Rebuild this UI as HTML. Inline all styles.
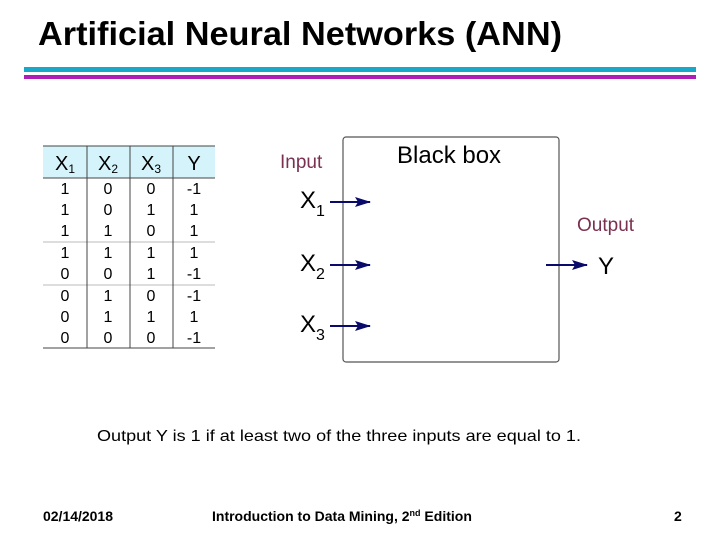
<!DOCTYPE html>
<html><head><meta charset="utf-8"><style>body{margin:0;background:#fff}svg{display:block}</style></head><body>
<svg width="720" height="540" xmlns="http://www.w3.org/2000/svg" font-family="Liberation Sans, sans-serif">
<defs><marker id="a" markerWidth="16" markerHeight="10" refX="15" refY="5" orient="auto" markerUnits="userSpaceOnUse"><path d="M0,0 L16,5 L0,10 L3,5 Z" fill="#0a0a6a"/></marker></defs>
<text x="38" y="45" font-size="33" font-weight="bold" textLength="524" lengthAdjust="spacingAndGlyphs">Artificial Neural Networks (ANN)</text>
<rect x="24" y="67" width="672" height="5" fill="#1aa8c8"/>
<rect x="24" y="75" width="672" height="4" fill="#b01cb8"/>
<rect x="43" y="146" width="172" height="32" fill="#d4f3fa"/>
<line x1="43" y1="146" x2="215" y2="146" stroke="#444"/>
<line x1="43" y1="178" x2="215" y2="178" stroke="#444"/>
<line x1="43" y1="348" x2="215" y2="348" stroke="#444"/>
<line x1="43" y1="242" x2="215" y2="242" stroke="#bbb"/>
<line x1="43" y1="285" x2="215" y2="285" stroke="#bbb"/>
<g stroke="#444"><line x1="87" y1="146" x2="87" y2="348"/><line x1="130" y1="146" x2="130" y2="348"/><line x1="173" y1="146" x2="173" y2="348"/></g>
<g font-size="20" text-anchor="middle">
<text x="65" y="170">X<tspan font-size="12" dy="3">1</tspan></text>
<text x="108" y="170">X<tspan font-size="12" dy="3">2</tspan></text>
<text x="151" y="170">X<tspan font-size="12" dy="3">3</tspan></text>
<text x="194" y="170">Y</text></g>
<g font-size="16" text-anchor="middle">
<text x="65" y="194">1</text><text x="108" y="194">0</text><text x="151" y="194">0</text><text x="194" y="194">-1</text>
<text x="65" y="215">1</text><text x="108" y="215">0</text><text x="151" y="215">1</text><text x="194" y="215">1</text>
<text x="65" y="236">1</text><text x="108" y="236">1</text><text x="151" y="236">0</text><text x="194" y="236">1</text>
<text x="65" y="258">1</text><text x="108" y="258">1</text><text x="151" y="258">1</text><text x="194" y="258">1</text>
<text x="65" y="279">0</text><text x="108" y="279">0</text><text x="151" y="279">1</text><text x="194" y="279">-1</text>
<text x="65" y="301">0</text><text x="108" y="301">1</text><text x="151" y="301">0</text><text x="194" y="301">-1</text>
<text x="65" y="322">0</text><text x="108" y="322">1</text><text x="151" y="322">1</text><text x="194" y="322">1</text>
<text x="65" y="343">0</text><text x="108" y="343">0</text><text x="151" y="343">0</text><text x="194" y="343">-1</text>
</g>
<rect x="343" y="137" width="216" height="225" rx="3" fill="none" stroke="#555" stroke-width="1.2"/>
<text x="397" y="163" font-size="24">Black box</text>
<text x="280" y="168" font-size="19" fill="#7a3050">Input</text>
<text x="577" y="231" font-size="19" fill="#7a3050">Output</text>
<g font-size="24"><text x="300" y="208">X<tspan font-size="16" dy="8">1</tspan></text>
<text x="300" y="271">X<tspan font-size="16" dy="8">2</tspan></text>
<text x="300" y="332">X<tspan font-size="16" dy="8">3</tspan></text>
<text x="598" y="274">Y</text></g>
<g stroke="#0a0a6a" stroke-width="2">
<line x1="330" y1="202" x2="370" y2="202" marker-end="url(#a)"/>
<line x1="330" y1="265" x2="370" y2="265" marker-end="url(#a)"/>
<line x1="330" y1="326" x2="370" y2="326" marker-end="url(#a)"/>
<line x1="546" y1="265" x2="587" y2="265" marker-end="url(#a)"/>
</g>
<text x="97" y="441" font-size="16" textLength="484" lengthAdjust="spacingAndGlyphs">Output Y is 1 if at least two of the three inputs are equal to 1.</text>
<g font-size="14" font-weight="bold">
<text x="43" y="521" textLength="70" lengthAdjust="spacingAndGlyphs">02/14/2018</text>
<text x="212" y="521">Introduction to Data Mining, 2<tspan font-size="9" dy="-5">nd</tspan><tspan dy="5"> Edition</tspan></text>
<text x="674" y="521">2</text></g>
</svg>
</body></html>
